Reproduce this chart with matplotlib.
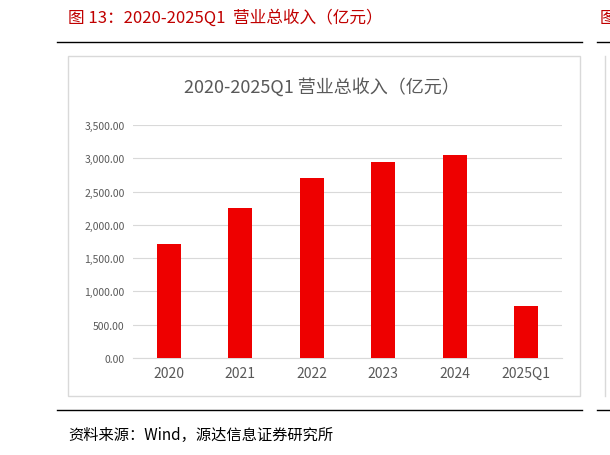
import matplotlib
matplotlib.use("Agg")
import matplotlib.pyplot as plt
from matplotlib.patches import Rectangle
from matplotlib.lines import Line2D

categories = ["2020", "2021", "2022", "2023", "2024", "2025Q1"]
revenue = [1712, 2253, 2704, 2944, 3049, 781]
yticks = [0, 500, 1000, 1500, 2000, 2500, 3000, 3500]

plt.rcParams["font.family"] = ["Noto Sans CJK SC"]
W, H = 610, 456
fig = plt.figure(figsize=(W/100, H/100), dpi=100)

def fx(x): return x / W
def fy(y): return 1 - y / H

fig.text(fx(68), fy(18), "图 13：2020-2025Q1  营业总收入（亿元）", color="#C00000",
         fontsize=12, va="center", ha="left")
fig.text(fx(600), fy(18), "图", color="#C00000", fontsize=12, va="center", ha="left")
fig.add_artist(Line2D([fx(57), fx(582)], [fy(43), fy(43)], color="black", lw=1))
fig.add_artist(Line2D([fx(597), fx(610)], [fy(43), fy(43)], color="black", lw=1))
fig.add_artist(Rectangle((fx(68), fy(397)), fx(580) - fx(68), fy(57) - fy(397),
                         fill=False, edgecolor="#D9D9D9", lw=1))
fig.add_artist(Line2D([fx(57), fx(582)], [fy(411), fy(411)], color="black", lw=1))
fig.add_artist(Line2D([fx(597), fx(610)], [fy(411), fy(411)], color="black", lw=1))
fig.text(fx(68), fy(435), "资料来源：Wind，源达信息证券研究所", color="black",
         fontsize=11, va="center", ha="left")
fig.add_artist(Line2D([fx(605), fx(605)], [fy(57), fy(397)], color="#D9D9D9", lw=1))

ax = fig.add_axes([fx(133), fy(359), fx(562) - fx(133), fy(126) - fy(359)])
x = range(len(categories))
ax.bar(x, revenue, width=0.33, color="#EE0000", zorder=3)
ax.set_ylim(0, 3500)
ax.set_xlim(-0.5, len(categories) - 0.5)
ax.set_yticks(yticks)
ax.set_yticklabels([f"{v:,.2f}" for v in yticks], fontsize=7.5, color="#595959")
ax.set_xticks(list(x))
ax.set_xticklabels(categories, fontsize=10, color="#595959")
ax.grid(axis="y", color="#D9D9D9", lw=0.8, zorder=0)
for s in ["top", "right", "left"]:
    ax.spines[s].set_visible(False)
ax.spines["bottom"].set_color("#D9D9D9")
ax.tick_params(length=0, pad=6)
fig.text(fx(322), fy(87), "2020-2025Q1 营业总收入（亿元）", color="#595959",
         fontsize=13, ha="center", va="center")

fig.savefig("out.png", dpi=100)
